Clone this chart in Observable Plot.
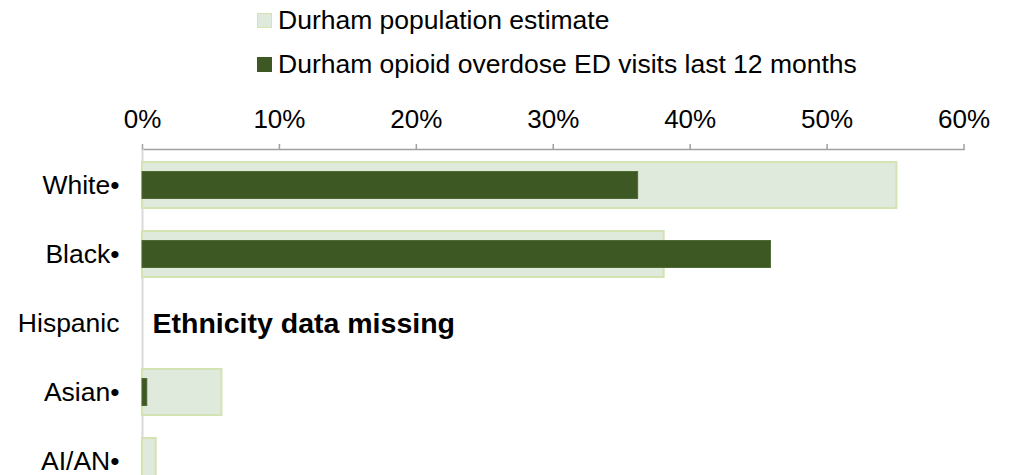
<!DOCTYPE html>
<html>
<head>
<meta charset="utf-8">
<script src="https://cdn.jsdelivr.net/npm/d3@7"></script>
<script src="https://cdn.jsdelivr.net/npm/@observablehq/plot@0.6"></script>
<style>
  html, body { margin: 0; padding: 0; background: #fff; overflow: hidden; }
  body { width: 1012px; height: 475px; font-family: "Liberation Sans", Arial, sans-serif; }
  #legend { position: relative; height: 90px; }
  .item { position: absolute; left: 257px; display: flex; align-items: center; font-size: 26.5px; color: #000; white-space: nowrap; line-height: 1; }
  .sw { width: 15px; height: 15px; box-sizing: border-box; margin-right: 6px; }
  #chart { height: 385px; overflow: hidden; }
  #chart svg { overflow: hidden; }
</style>
</head>
<body>
<div id="legend"></div>
<div id="chart"></div>
<script>
const categories = ["White", "Black", "Hispanic", "Asian", "AI/AN"];
const tickLabels = ["White•", "Black•", "Hispanic", "Asian•", "AI/AN•"];
const populationPct = [55.1, 38.1, null, 5.8, 1.0];
const overdosePct = [36.2, 45.9, null, 0.35, 0];
const xTicks = [0, 10, 20, 30, 40, 50, 60];
const seriesNames = ["Durham population estimate", "Durham opioid overdose ED visits last 12 months"];
const noteCategory = "Hispanic";
const noteText = "Ethnicity data missing";

const lightFill = "#e0eadc", lightStroke = "#d3e3b2";
const darkFill = "#3e5824", darkStroke = "#4f6a35";

// legend
const legend = document.getElementById("legend");
[[lightFill, lightStroke, 13], [darkFill, darkFill, 57]].forEach(([f, s, top], i) => {
  const it = document.createElement("div");
  it.className = "item";
  it.style.top = (top - 6) + "px";
  const sw = document.createElement("div");
  sw.className = "sw";
  sw.style.background = f;
  sw.style.border = "1.5px solid " + s;
  it.appendChild(sw);
  const t = document.createElement("span");
  t.textContent = seriesNames[i];
  it.appendChild(t);
  legend.appendChild(it);
});

const pop = categories.map((c, i) => ({cat: c, v: populationPct[i]})).filter(d => d.v != null);
const od = categories.map((c, i) => ({cat: c, v: overdosePct[i]})).filter(d => d.v != null && d.v > 0);
const labelOf = new Map(categories.map((c, i) => [c, tickLabels[i]]));

const chart = Plot.plot({
  width: 1012,
  height: 385,
  marginTop: 59,
  marginLeft: 142,
  marginRight: 48.5,
  marginBottom: 0,
  style: {fontFamily: "'Liberation Sans', Arial, sans-serif", fontSize: "26px", color: "#000", background: "#fff"},
  x: {domain: [0, 60], axis: null},
  y: {domain: categories, range: [59, 407], paddingInner: 0.327, paddingOuter: 0.169, axis: null},
  marks: [
    Plot.axisX({anchor: "top", label: null, ticks: xTicks, tickFormat: d => d + "%", tickSize: 6, tickPadding: 16, stroke: "#a0a0a0", strokeWidth: 1.5, fontSize: 26, fill: "#000"}),
    Plot.axisY({anchor: "left", label: null, tickSize: 0, tickPadding: 23, tickFormat: d => labelOf.get(d), fontSize: 26.5, fill: "#000"}),
    Plot.frame({anchor: "top", stroke: "#a0a0a0", strokeWidth: 1.5}),
    Plot.ruleX([0], {stroke: "#d9d9d9", strokeWidth: 2}),
    Plot.barX(pop, {x: "v", y: "cat", fill: lightFill, stroke: lightStroke, strokeWidth: 2}),
    Plot.barX(od, {x: "v", y: "cat", fill: darkFill, stroke: darkStroke, strokeWidth: 1, insetTop: 9.5, insetBottom: 9.5}),
    Plot.text([noteCategory], {x: 0, y: d => d, text: () => noteText, textAnchor: "start", dx: 10, fontSize: 28.5, fontWeight: "bold", fill: "#000"})
  ]
});
document.getElementById("chart").appendChild(chart);
</script>
</body>
</html>
